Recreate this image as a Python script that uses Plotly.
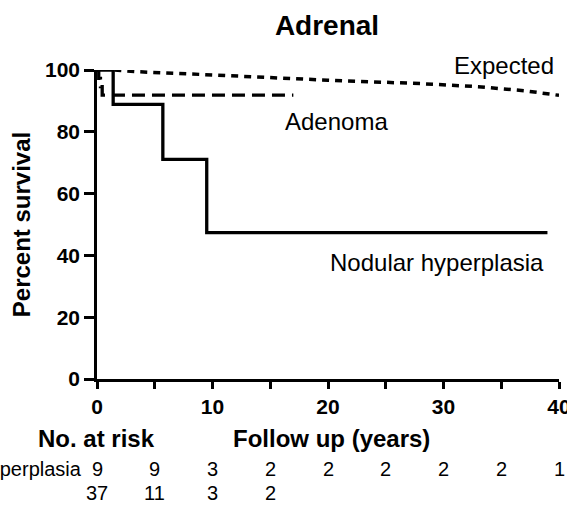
import plotly.graph_objects as go

# ---- data ----
nodular_t = [0, 1.4, 1.4, 5.7, 5.7, 9.5, 9.5, 39.0]
nodular_s = [100, 100, 88.9, 88.9, 71.1, 71.1, 47.4, 47.4]

adenoma_t = [0, 0.15, 0.15, 0.3, 0.3, 0.45, 0.45, 17.0]
adenoma_s = [100, 100, 97.3, 97.3, 94.6, 94.6, 91.9, 91.9]

expected_t = [1.5, 3.7, 10, 15.8, 20, 28, 33, 37, 40]
expected_s = [100, 99.4, 98.4, 97.3, 96.7, 95.6, 94.6, 93.3, 91.8]

risk_times = [0, 5, 10, 15, 20, 25, 30, 35, 40]
risk_nodular = ["9", "9", "3", "2", "2", "2", "2", "2", "1"]
risk_adenoma = ["37", "11", "3", "2"]

x_ticks = [0, 10, 20, 30, 40]
y_ticks = [0, 20, 40, 60, 80, 100]

FONT = "Liberation Sans, Arial, sans-serif"

fig = go.Figure()
fig.add_trace(go.Scatter(x=expected_t, y=expected_s, mode="lines",
                         line=dict(color="black", width=3.5, dash="7px,6px"),
                         name="Expected", showlegend=False))
fig.add_trace(go.Scatter(x=adenoma_t, y=adenoma_s, mode="lines",
                         line=dict(color="black", width=3.3, dash="13px,7px"),
                         name="Adenoma", showlegend=False))
fig.add_trace(go.Scatter(x=nodular_t, y=nodular_s, mode="lines",
                         line=dict(color="black", width=3.3),
                         name="Nodular hyperplasia", showlegend=False))

ann = [
    dict(x=0.881, y=1.016, xref="paper", yref="paper", text="Expected", showarrow=False,
         xanchor="center", yanchor="middle",
         font=dict(size=24, color="black", family=FONT)),
    dict(x=20.7, y=83.2, xref="x", yref="y", text="Adenoma", showarrow=False,
         yanchor="middle", font=dict(size=24, color="black", family=FONT)),
    dict(x=29.4, y=37.6, xref="x", yref="y", text="Nodular hyperplasia", showarrow=False,
         yanchor="middle", font=dict(size=24, color="black", family=FONT)),
    dict(x=-0.002, y=-0.191, xref="paper", yref="paper", text="<b>No. at risk</b>", showarrow=False,
         xanchor="center", yanchor="middle", font=dict(size=24, color="black", family=FONT)),
    dict(x=0.508, y=-0.191, xref="paper", yref="paper", text="<b>Follow up (years)</b>", showarrow=False,
         xanchor="center", yanchor="middle", font=dict(size=24, color="black", family=FONT)),
    dict(x=-0.028, y=-0.291, xref="paper", yref="paper", text="Nodular hyperplasia", showarrow=False,
         xanchor="right", yanchor="middle", font=dict(size=20, color="black", family=FONT)),
]
for t, v in zip(risk_times, risk_nodular):
    ann.append(dict(x=t, y=-0.291, xref="x", yref="paper", text=v, showarrow=False,
                    yanchor="middle", font=dict(size=20, color="black", family=FONT)))
for t, v in zip(risk_times, risk_adenoma):
    ann.append(dict(x=t, y=-0.369, xref="x", yref="paper", text=v, showarrow=False,
                    yanchor="middle", font=dict(size=20, color="black", family=FONT)))

fig.update_layout(
    width=567, height=505,
    margin=dict(l=97, r=8, t=70, b=126),
    paper_bgcolor="white", plot_bgcolor="white",
    title=dict(text="<b>Adrenal</b>", x=327 / 567, xanchor="center", y=1 - 25 / 505, yanchor="middle",
               font=dict(size=28, color="black", family=FONT)),
    annotations=ann,
    xaxis=dict(range=[0, 40], tickvals=x_ticks, showgrid=False, zeroline=False,
               showline=True, linecolor="black", linewidth=2.5, automargin=False,
               ticks="outside", ticklen=7, tickwidth=2.5, tickcolor="black",
               minor=dict(ticks="outside", dtick=5, tick0=0, ticklen=7, tickwidth=2.5, tickcolor="black"),
               tickfont=dict(size=21, color="black", family=FONT, weight="bold"),
               ticklabeloverflow="allow"),
    yaxis=dict(range=[0, 100], tickvals=y_ticks, showgrid=False, zeroline=False,
               showline=True, linecolor="black", linewidth=2.5, automargin=False,
               ticks="outside", ticklen=10, tickwidth=2.5, tickcolor="black",
               tickfont=dict(size=21, color="black", family=FONT, weight="bold"),
               title=dict(text="<b>Percent survival</b>", standoff=8,
                          font=dict(size=24, color="black", family=FONT))),
)

fig.write_html("out.html")
